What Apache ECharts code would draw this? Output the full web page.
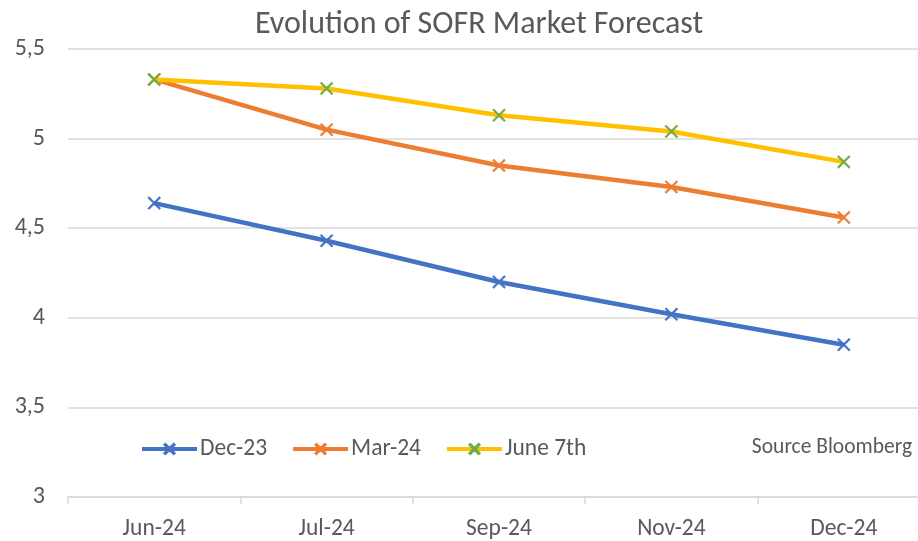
<!DOCTYPE html>
<html>
<head>
<meta charset="utf-8">
<script src="https://cdn.jsdelivr.net/npm/echarts@6/dist/echarts.min.js"></script>
<style>
html,body{margin:0;padding:0;background:#fff;overflow:hidden;width:918px;height:541px;}
#chart{width:930px;height:541px;}
</style>
</head>
<body>
<div id="chart"></div>
<script>
var categories = ['Jun-24', 'Jul-24', 'Sep-24', 'Nov-24', 'Dec-24'];
var dec23 = [4.64, 4.43, 4.20, 4.02, 3.85];
var mar24 = [5.33, 5.05, 4.85, 4.73, 4.56];
var june7 = [5.33, 5.28, 5.13, 5.04, 4.87];
var seriesNames = ['Dec-23', 'Mar-24', 'June 7th'];
var yTicks = { min: 3, max: 5.5, interval: 0.5 };

var FONT = "Carlito, 'Liberation Sans Narrow', 'Open Sans', sans-serif";
var XSYM = 'path://M0,1L1,0L5,4L9,0L10,1L6,5L10,9L9,10L5,6L1,10L0,9L4,5Z';

function mk(name, data, lineColor, markColor) {
  return {
    name: name,
    type: 'line',
    data: data,
    symbol: XSYM,
    symbolSize: 13,
    showAllSymbol: true,
    lineStyle: { color: lineColor, width: 4.5 },
    itemStyle: { color: markColor, borderColor: markColor, borderWidth: 0.5 },
    emphasis: { disabled: true },
    animation: false,
    z: 2
  };
}

var chart = echarts.init(document.getElementById('chart'));
chart.setOption({
  backgroundColor: '#ffffff',
  animation: false,
  title: {
    text: 'Evolution of SOFR Market Forecast',
    left: 474, textAlign: 'center', top: 4,
    textStyle: { fontFamily: FONT, fontSize: 32, fontWeight: 'normal', color: '#595959' }
  },
  legend: {
    data: seriesNames,
    left: 140, top: 437, padding: 0,
    itemWidth: 55, itemHeight: 13, itemGap: 24,
    lineStyle: { width: 4 },
    textStyle: { fontFamily: FONT, fontSize: 23.5, color: '#595959', padding: [0, 0, 0, -2] }
  },
  graphic: [{
    type: 'text', right: 18, top: 437,
    style: { text: 'Source Bloomberg', fontFamily: FONT, fontSize: 21.5, fill: '#595959' }
  }],
  grid: { left: 68, right: 0, top: 49, bottom: 43, containLabel: false },
  xAxis: {
    type: 'category',
    data: categories,
    boundaryGap: true,
    axisLine: { lineStyle: { color: '#d9d9d9', width: 1.5 } },
    axisTick: { show: true, length: 7, lineStyle: { color: '#d9d9d9', width: 1.5 } },
    axisLabel: { margin: 20, fontFamily: FONT, fontSize: 23.5, color: '#595959' }
  },
  yAxis: {
    type: 'value',
    min: yTicks.min, max: yTicks.max, interval: yTicks.interval,
    axisLine: { show: false },
    axisTick: { show: false },
    splitLine: { lineStyle: { color: '#d9d9d9', width: 1.5 } },
    axisLabel: {
      margin: 23, fontFamily: FONT, fontSize: 24, color: '#595959',
      formatter: function (v) { return String(v).replace('.', ','); }
    }
  },
  series: [
    mk(seriesNames[0], dec23, '#4472C4', '#4472C4'),
    mk(seriesNames[1], mar24, '#ED7D31', '#ED7D31'),
    mk(seriesNames[2], june7, '#FFC000', '#70AD47')
  ]
});
</script>
</body>
</html>
